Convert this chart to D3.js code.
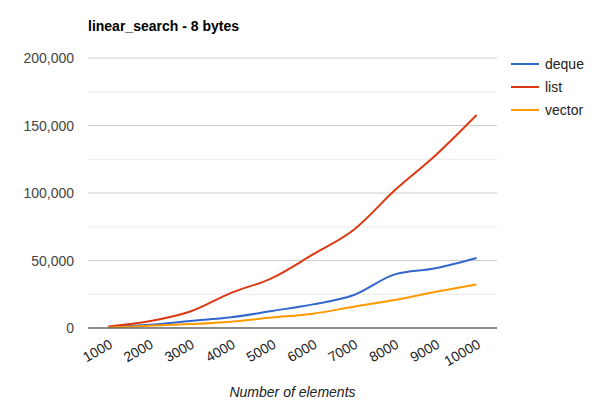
<!DOCTYPE html>
<html>
<head>
<meta charset="utf-8">
<script src="https://cdn.jsdelivr.net/npm/d3@7"></script>
<style>
  body { margin: 0; background: #fff; }
  text { font-family: "Liberation Sans", Arial, sans-serif; }
</style>
</head>
<body>
<svg id="chart" width="600" height="403"></svg>
<script>
const categories = [1000, 2000, 3000, 4000, 5000, 6000, 7000, 8000, 9000, 10000];
const deque  = [1000, 2400, 5200, 7900, 12600, 17500, 24400, 39700, 44200, 51800];
const list   = [1200, 5000, 12200, 26000, 37000, 54500, 72800, 102000, 128000, 157800];
const vector = [300, 1600, 2900, 4700, 7700, 10600, 15800, 20700, 26800, 32300];
const yTicks = [0, 50000, 100000, 150000, 200000];
const yMinor = [25000, 75000, 125000, 175000];

const series = [
    {name: "deque", values: deque, color: "#3366cc"},
    {name: "list", values: list, color: "#dc3912"},
    {name: "vector", values: vector, color: "#ff9900"}
];

const svg = d3.select("#chart");
const plotLeft = 88, plotRight = 497, plotTop = 58, plotBottom = 328;

const x = d3.scalePoint()
    .domain(categories)
    .range([plotLeft, plotRight])
    .padding(0.5);

const y = d3.scaleLinear()
    .domain([0, 200000])
    .range([plotBottom, plotTop]);

// title
svg.append("text")
    .attr("x", plotLeft)
    .attr("y", 31)
    .attr("font-size", 14)
    .attr("font-weight", "bold")
    .attr("fill", "#000")
    .text("linear_search - 8 bytes");

// grid lines
svg.append("g")
    .selectAll("line")
    .data(yMinor)
    .join("line")
    .attr("x1", plotLeft).attr("x2", plotRight)
    .attr("y1", d => y(d)).attr("y2", d => y(d))
    .attr("stroke", "#ebebeb");

svg.append("g")
    .selectAll("line")
    .data(yTicks.filter(d => d > 0))
    .join("line")
    .attr("x1", plotLeft).attr("x2", plotRight)
    .attr("y1", d => y(d)).attr("y2", d => y(d))
    .attr("stroke", "#cccccc");

// y labels
svg.append("g")
    .selectAll("text")
    .data(yTicks)
    .join("text")
    .attr("x", 74)
    .attr("y", d => y(d) + 5)
    .attr("text-anchor", "end")
    .attr("font-size", 14)
    .attr("fill", "#444")
    .text(d => d3.format(",")(d));

// lines
const line = d3.line()
    .x((d, i) => x(categories[i]))
    .y(d => y(d))
    .curve(d3.curveMonotoneX);

svg.append("g")
    .selectAll("path")
    .data(series)
    .join("path")
    .attr("d", d => line(d.values))
    .attr("fill", "none")
    .attr("stroke", d => d.color)
    .attr("stroke-width", 2);

// baseline
svg.append("line")
    .attr("x1", plotLeft).attr("x2", plotRight)
    .attr("y1", y(0)).attr("y2", y(0))
    .attr("stroke", "#666")
    .attr("stroke-width", 1.5);

// x labels, rotated
svg.append("g")
    .selectAll("text")
    .data(categories)
    .join("text")
    .attr("transform", d => `translate(${x(d) + 5},${347}) rotate(-30)`)
    .attr("text-anchor", "end")
    .attr("font-size", 14)
    .attr("fill", "#222")
    .text(d => d);

// x axis title
svg.append("text")
    .attr("x", (plotLeft + plotRight) / 2)
    .attr("y", 397)
    .attr("text-anchor", "middle")
    .attr("font-size", 14)
    .attr("font-style", "italic")
    .attr("fill", "#222")
    .text("Number of elements");

// legend
const legend = svg.append("g")
    .selectAll("g")
    .data(series)
    .join("g")
    .attr("transform", (d, i) => `translate(511,${64 + i * 23})`);

legend.append("line")
    .attr("x1", 0).attr("x2", 28)
    .attr("stroke", d => d.color)
    .attr("stroke-width", 2);

legend.append("text")
    .attr("x", 34)
    .attr("y", 5)
    .attr("font-size", 14)
    .attr("fill", "#222")
    .text(d => d.name);
</script>
</body>
</html>
